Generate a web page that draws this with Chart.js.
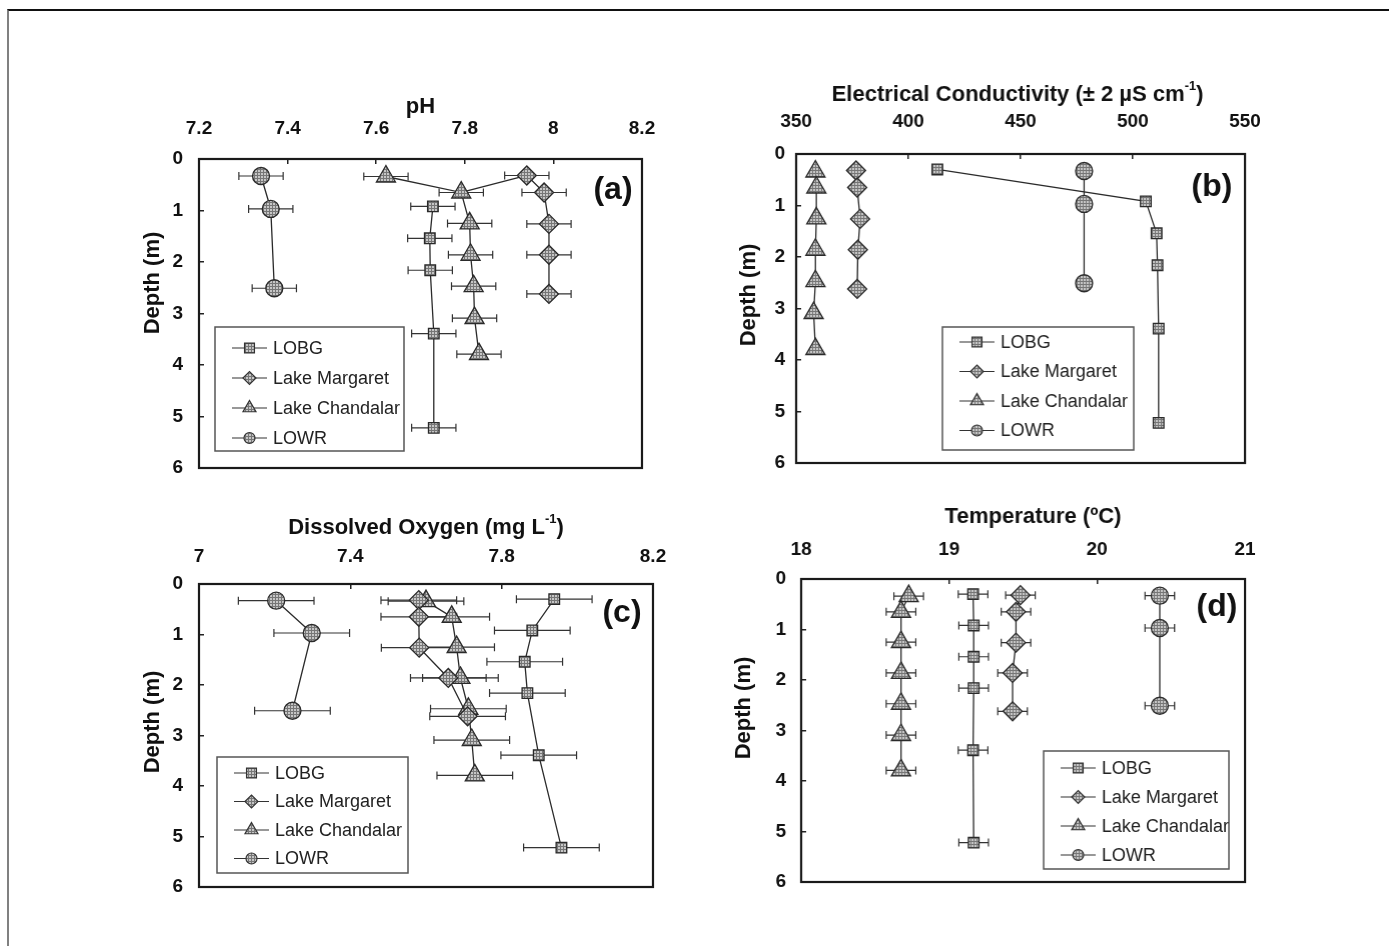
<!DOCTYPE html>
<html>
<head>
<meta charset="utf-8">
<title>Perfiles de profundidad</title>
<script src="https://cdn.jsdelivr.net/npm/chart.js@4.4.1/dist/chart.umd.min.js"></script>
<style>
  html, body { margin: 0; padding: 0; background: #fff; }
  body { width: 1389px; height: 946px; position: relative; overflow: hidden; }
  #marco { position: absolute; left: 7px; top: 9px; width: 1382px; height: 937px; box-sizing: border-box;
           border-top: 2px solid #111; border-left: 2px solid #808080; }
  canvas { position: absolute; }
</style>
</head>
<body>
<div id="marco"></div>
<canvas id="panelA"></canvas>
<canvas id="panelB"></canvas>
<canvas id="panelC"></canvas>
<canvas id="panelD"></canvas>
<script>
// ====== 1) Datos ======
const sitios = ['LOBG', 'Lake Margaret', 'Lake Chandalar', 'LOWR'];

// profundidad de cada muestra (m)
const profLOBG = [0.3, 0.92, 1.54, 2.16, 3.39, 5.22];
const profMargaret = [0.32, 0.65, 1.26, 1.86, 2.62];
const profChandalar = [0.34, 0.65, 1.25, 1.86, 2.47, 3.09, 3.79];
const profLOWR = [0.33, 0.97, 2.51];
const profTicks = [0, 1, 2, 3, 4, 5, 6];

// (a) pH
const phTicks = [7.2, 7.4, 7.6, 7.8, 8, 8.2];
const phLOBG = [null, 7.728, 7.721, 7.722, 7.73, 7.73];
const phMargaret = [7.94, 7.979, 7.99, 7.99, 7.99];
const phChandalar = [7.622, 7.792, 7.811, 7.813, 7.82, 7.822, 7.832];
const phLOWR = [7.34, 7.362, 7.37];
const phError = 0.05;

// (b) conductividad electrica
const ecTicks = [350, 400, 450, 500, 550];
const ecLOBG = [412.9, 505.8, 510.6, 511.0, 511.5, 511.5];
const ecMargaret = [376.7, 377.2, 378.5, 377.5, 377.2];
const ecChandalar = [358.6, 359.0, 359.0, 358.6, 358.6, 357.8, 358.6];
const ecLOWR = [478.3, 478.3, 478.3];
const ecError = 0;

// (c) oxigeno disuelto
const odTicks = [7, 7.4, 7.8, 8.2];
const odLOBG = [7.939, 7.881, 7.861, 7.868, 7.898, 7.958];
const odMargaret = [7.581, 7.581, 7.582, 7.659, 7.71];
const odChandalar = [7.6, 7.668, 7.681, 7.691, 7.712, 7.721, 7.729];
const odLOWR = [7.204, 7.298, 7.247];
const odError = 0.1;

// (d) temperatura
const tTicks = [18, 19, 20, 21];
const tLOBG = [19.162, 19.166, 19.166, 19.166, 19.162, 19.166];
const tMargaret = [19.482, 19.452, 19.452, 19.429, 19.429];
const tChandalar = [18.727, 18.675, 18.675, 18.675, 18.675, 18.675, 18.675];
const tLOWR = [20.424, 20.424, 20.424];
const tError = 0.1;

const profundidades = [profLOBG, profMargaret, profChandalar, profLOWR];

// ====== 2) Estilos ======
const FUENTE = '"Liberation Sans", Arial, Helvetica, sans-serif';
const MARGEN = 80;   // espacio para ejes y titulos
const RELLENO = 20;

const marcadores = {
    'LOBG': { pointStyle: 'rect', radius: 7.5, legend: 7 },
    'Lake Margaret': { pointStyle: 'rectRot', radius: 9.5, legend: 6.5 },
    'Lake Chandalar': { pointStyle: 'triangle', radius: 11, legend: 7.5 },
    'LOWR': { pointStyle: 'circle', radius: 8.5, legend: 5.5 }
};

const paneles = [
    {
        id: 'panelA', caja: { l: 199, t: 159, r: 642, b: 468 },
        min: 7.2, max: 8.2, ticks: phTicks, error: phError,
        valores: [phLOBG, phMargaret, phChandalar, phLOWR],
        titulo: [{ t: 'pH' }], letra: '(a)',
        padX: 24, padY: 21, tituloX: { dx: 0, dy: -52 }, tituloY: { dx: -46, dy: 124 },
        letraPos: { dx: -29, dy: 31 },
        leyenda: { dx: 16, dy: 168, w: 189, h: 124, fila0: 21, paso: 30 },
        union: true
    },
    {
        id: 'panelB', caja: { l: 796, t: 154, r: 1244, b: 463 },
        min: 350, max: 550, ticks: ecTicks, error: ecError,
        valores: [ecLOBG, ecMargaret, ecChandalar, ecLOWR],
        titulo: [{ t: 'Electrical Conductivity (\u00B1 2 \u00B5S cm' }, { t: '-1', sup: true }, { t: ')' }], letra: '(b)',
        padX: 26, padY: 16, tituloX: { dx: -3, dy: -59 }, tituloY: { dx: -47, dy: 141 },
        letraPos: { dx: -33, dy: 33 },
        leyenda: { dx: 146, dy: 173, w: 191, h: 123, fila0: 15, paso: 29.5 }
    },
    {
        id: 'panelC', caja: { l: 199, t: 584, r: 653, b: 887 },
        min: 7, max: 8.2, ticks: odTicks, error: odError,
        valores: [odLOBG, odMargaret, odChandalar, odLOWR],
        titulo: [{ t: 'Dissolved Oxygen (mg L' }, { t: '-1', sup: true }, { t: ')' }], letra: '(c)',
        padX: 21, padY: 21, tituloX: { dx: 0, dy: -56 }, tituloY: { dx: -46, dy: 138 },
        letraPos: { dx: -31, dy: 29 },
        leyenda: { dx: 18, dy: 173, w: 191, h: 116, fila0: 16, paso: 28.5 }
    },
    {
        id: 'panelD', caja: { l: 801, t: 579, r: 1244, b: 882 },
        min: 18, max: 21, ticks: tTicks, error: tError,
        valores: [tLOBG, tMargaret, tChandalar, tLOWR],
        titulo: [{ t: 'Temperature (\u00BAC)' }], letra: '(d)',
        padX: 23, padY: 20, tituloX: { dx: 10, dy: -62 }, tituloY: { dx: -57, dy: 129 },
        letraPos: { dx: -28, dy: 28 },
        leyenda: { dx: 242, dy: 172, w: 185, h: 118, fila0: 17, paso: 29 }
    }
];

// ====== 3) Utilidades ======
function crearTrama(ctx) {
    const c = document.createElement('canvas');
    c.width = 3; c.height = 3;
    const g = c.getContext('2d');
    g.fillStyle = '#c6c6c6';
    g.fillRect(0, 0, 3, 3);
    g.fillStyle = '#767676';
    g.fillRect(0, 0, 3, 1);
    g.fillRect(0, 0, 1, 3);
    return ctx.createPattern(c, 'repeat');
}

function textoConSup(ctx, partes, x, y, size) {
    const base = `bold ${size}px ${FUENTE}`;
    const sup = `bold ${Math.round(size * 0.6)}px ${FUENTE}`;
    let total = 0;
    partes.forEach(p => { ctx.font = p.sup ? sup : base; total += ctx.measureText(p.t).width; });
    let cx = x - total / 2;
    ctx.textAlign = 'left';
    ctx.textBaseline = 'middle';
    partes.forEach(p => {
        ctx.font = p.sup ? sup : base;
        ctx.fillText(p.t, cx, p.sup ? y - size * 0.38 : y);
        cx += ctx.measureText(p.t).width;
    });
}

function serie(nombre, valores, prof, error, trama) {
    const puntos = [];
    valores.forEach((v, i) => {
        if (v !== null) puntos.push({ x: v, y: prof[i] });
    });
    const m = marcadores[nombre];
    return {
        label: nombre,
        data: puntos,
        showLine: true,
        tension: 0,
        borderColor: '#2a2a2a',
        borderWidth: 1.3,
        pointStyle: m.pointStyle,
        pointRadius: m.radius,
        pointBackgroundColor: trama,
        pointBorderColor: '#2a2a2a',
        pointBorderWidth: 1.3,
        errX: error
    };
}

// ====== 4) Crear cada panel ======
function crearPanel(p) {
    const canvas = document.getElementById(p.id);
    const W = p.caja.r - p.caja.l + MARGEN + RELLENO;
    const H = p.caja.b - p.caja.t + MARGEN + RELLENO;
    canvas.width = W;
    canvas.height = H;

    const ctx = canvas.getContext('2d');
    const trama = crearTrama(ctx);

    const datasets = sitios.map((s, i) => serie(s, p.valores[i], profundidades[i], p.error, trama));

    // tramo que une Lake Chandalar con Lake Margaret en (a)
    if (p.union) {
        datasets.push({
            label: 'union',
            data: [
                { x: phChandalar[1], y: profChandalar[1] },
                { x: phMargaret[0], y: profMargaret[0] }
            ],
            showLine: true,
            borderColor: '#2a2a2a',
            borderWidth: 1.3,
            pointRadius: 0,
            errX: 0
        });
    }

    const pluginErrores = {
        id: 'errores',
        beforeDatasetsDraw(chart) {
            const c = chart.ctx;
            const xs = chart.scales.x;
            c.save();
            c.strokeStyle = '#333';
            c.lineWidth = 1.2;
            chart.data.datasets.forEach((ds, i) => {
                if (!ds.errX) return;
                chart.getDatasetMeta(i).data.forEach((pt, j) => {
                    const v = ds.data[j].x;
                    const x1 = xs.getPixelForValue(v - ds.errX);
                    const x2 = xs.getPixelForValue(v + ds.errX);
                    const y = pt.y;
                    c.beginPath();
                    c.moveTo(x1, y); c.lineTo(x2, y);
                    c.moveTo(x1, y - 4); c.lineTo(x1, y + 4);
                    c.moveTo(x2, y - 4); c.lineTo(x2, y + 4);
                    c.stroke();
                });
            });
            c.restore();
        }
    };

    const pluginMarco = {
        id: 'marcoPanel',
        afterDraw(chart) {
            const a = chart.chartArea;
            const c = chart.ctx;
            c.save();

            // recuadro del grafico
            c.strokeStyle = '#1a1a1a';
            c.lineWidth = 2.2;
            c.strokeRect(a.left, a.top, a.right - a.left, a.bottom - a.top);

            // titulos
            c.fillStyle = '#111';
            textoConSup(c, p.titulo, (a.left + a.right) / 2 + p.tituloX.dx, a.top + p.tituloX.dy, 22);
            c.save();
            c.translate(a.left + p.tituloY.dx, a.top + p.tituloY.dy);
            c.rotate(-Math.PI / 2);
            textoConSup(c, [{ t: 'Depth (m)' }], 0, 0, 22);
            c.restore();

            // letra del panel
            c.font = `bold 32px ${FUENTE}`;
            c.textAlign = 'center';
            c.textBaseline = 'middle';
            c.fillText(p.letra, a.right + p.letraPos.dx, a.top + p.letraPos.dy);

            // leyenda
            const lg = p.leyenda;
            const lx = a.left + lg.dx;
            const ly = a.top + lg.dy;
            c.fillStyle = '#fff';
            c.fillRect(lx, ly, lg.w, lg.h);
            c.strokeStyle = '#555';
            c.lineWidth = 1.5;
            c.strokeRect(lx, ly, lg.w, lg.h);

            sitios.forEach((s, i) => {
                const y = ly + lg.fila0 + i * lg.paso;
                c.strokeStyle = '#333';
                c.lineWidth = 1.2;
                c.beginPath();
                c.moveTo(lx + 17, y);
                c.lineTo(lx + 52, y);
                c.stroke();
                c.fillStyle = trama;
                Chart.helpers.drawPoint(c, {
                    pointStyle: marcadores[s].pointStyle,
                    radius: marcadores[s].legend,
                    borderWidth: 1.2,
                    rotation: 0
                }, lx + 34.5, y);
                c.fillStyle = '#222';
                c.font = `18px ${FUENTE}`;
                c.textAlign = 'left';
                c.textBaseline = 'middle';
                c.fillText(s, lx + 58, y + 1);
            });
            c.restore();
        }
    };

    const fuenteTicks = { family: FUENTE, size: 19, weight: 'bold' };

    const chart = new Chart(ctx, {
        type: 'scatter',
        data: { datasets: datasets },
        options: {
            responsive: false,
            maintainAspectRatio: false,
            animation: false,
            events: [],
            layout: { padding: { left: 0, top: 0, right: RELLENO, bottom: RELLENO } },
            plugins: {
                legend: { display: false },
                tooltip: { enabled: false }
            },
            scales: {
                x: {
                    type: 'linear',
                    position: 'top',
                    min: p.min,
                    max: p.max,
                    afterBuildTicks: s => { s.ticks = p.ticks.map(v => ({ value: v })); },
                    afterFit: s => { s.height = MARGEN; },
                    border: { display: false },
                    grid: { drawOnChartArea: false, drawTicks: true, tickLength: -5, color: '#222', lineWidth: 1.5 },
                    ticks: {
                        padding: p.padX,
                        color: '#111',
                        font: fuenteTicks,
                        maxRotation: 0,
                        callback: v => String(+Number(v).toFixed(2))
                    }
                },
                y: {
                    type: 'linear',
                    position: 'left',
                    reverse: true,
                    min: 0,
                    max: 6,
                    afterBuildTicks: s => { s.ticks = profTicks.map(v => ({ value: v })); },
                    afterFit: s => { s.width = MARGEN; },
                    border: { display: false },
                    grid: { drawOnChartArea: false, drawTicks: true, tickLength: -5, color: '#222', lineWidth: 1.5 },
                    ticks: {
                        padding: p.padY,
                        color: '#111',
                        font: fuenteTicks,
                        callback: v => String(v)
                    }
                }
            }
        },
        plugins: [pluginErrores, pluginMarco]
    });

    // ajustar el lienzo para que el area del grafico coincida con la caja
    const a0 = chart.chartArea;
    const nuevoW = W + ((p.caja.r - p.caja.l) - (a0.right - a0.left));
    const nuevoH = H + ((p.caja.b - p.caja.t) - (a0.bottom - a0.top));
    chart.resize(nuevoW, nuevoH);
    const a = chart.chartArea;
    canvas.style.left = (p.caja.l - a.left) + 'px';
    canvas.style.top = (p.caja.t - a.top) + 'px';
}

paneles.forEach(crearPanel);
</script>
</body>
</html>
